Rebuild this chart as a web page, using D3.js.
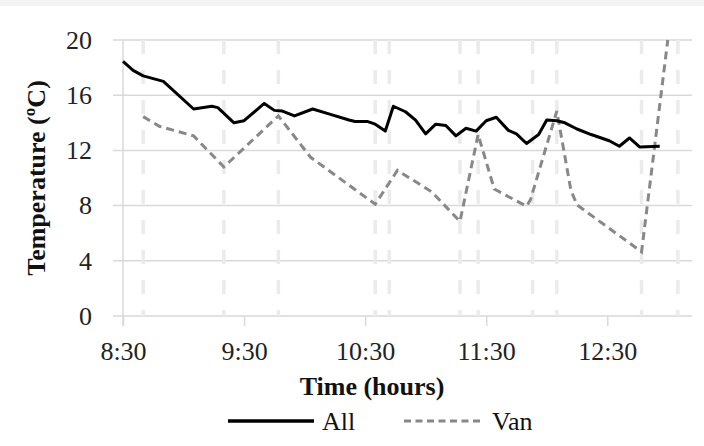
<!DOCTYPE html>
<html>
<head>
<meta charset="utf-8">
<script src="https://cdn.jsdelivr.net/npm/d3@7"></script>
<style>
  body { margin: 0; background: #fff; }
  svg { display: block; }
</style>
</head>
<body>
<script>
const w = 704
const h = 446
const margin = { top: 40, right: 12, bottom: 130, left: 123 }

// temperature readings, all loggers
const allTimes = ['8:30', '8:35', '8:40', '8:50', '9:05', '9:14', '9:17', '9:25', '9:30', '9:40',
	'9:45', '9:49', '9:55', '10:04', '10:12', '10:22', '10:25', '10:31', '10:35', '10:40',
	'10:44', '10:50', '10:55', '11:00', '11:05', '11:10', '11:15', '11:20', '11:25', '11:30',
	'11:35', '11:41', '11:45', '11:50', '11:56', '12:00', '12:05', '12:09', '12:15', '12:22',
	'12:31', '12:36', '12:41', '12:46', '12:56']
const allValues = [18.45, 17.8, 17.4, 17.0, 15.0, 15.2, 15.1, 14.0, 14.15, 15.4,
	14.9, 14.85, 14.5, 15.0, 14.65, 14.2, 14.1, 14.1, 13.9, 13.4,
	15.2, 14.8, 14.2, 13.2, 13.9, 13.8, 13.05, 13.6, 13.4, 14.15,
	14.4, 13.45, 13.2, 12.5, 13.15, 14.2, 14.15, 14.0, 13.55, 13.15,
	12.7, 12.3, 12.9, 12.25, 12.3]

// van logger
const vanTimes = ['8:40', '8:48', '8:59', '9:05', '9:20', '9:47', '10:03', '10:35', '10:46', '11:03',
	'11:17', '11:26', '11:34', '11:50', '11:52', '12:05', '12:12', '12:15', '12:47', '13:00']
const vanValues = [14.45, 13.75, 13.3, 13.05, 10.8, 14.5, 11.5, 8.1, 10.55, 9.0,
	6.85, 13.15, 9.2, 7.95, 8.45, 14.85, 9.1, 8.05, 4.65, 20]

// van stops (dashed markers)
const stopTimes = ['8:40', '9:20', '9:47', '10:35', '10:42', '11:17', '11:26', '11:53', '12:05', '12:47', '13:05']

const xTicks = ['8:30', '9:30', '10:30', '11:30', '12:30']
const yTicks = [0, 4, 8, 12, 16, 20]
const xStart = '8:30'
const xEnd = '13:12'

const parse = d3.timeParse('%H:%M')
const fmt = d3.timeFormat('%-H:%M')
const font = '"Liberation Serif", "Times New Roman", serif'

const svg = d3.select('body')
	.append('svg')
	.attr('width', w)
	.attr('height', h)

svg.append('rect')
	.attr('width', w)
	.attr('height', 6)
	.attr('fill', '#f3f3f3')

const xScale = d3.scaleTime()
	.domain([parse(xStart), parse(xEnd)])
	.range([margin.left, w - margin.right])

const yScale = d3.scaleLinear()
	.domain([0, 20])
	.range([h - margin.bottom, margin.top])

// horizontal gridlines
svg.append('g')
	.selectAll('line')
	.data(yTicks)
	.enter()
	.append('line')
	.attr('x1', margin.left - 10)
	.attr('x2', w - margin.right)
	.attr('y1', d => yScale(d))
	.attr('y2', d => yScale(d))
	.attr('stroke', '#d9d9d9')
	.attr('stroke-width', 1.5)

// van stop markers
svg.append('g')
	.selectAll('line')
	.data(stopTimes)
	.enter()
	.append('line')
	.attr('x1', d => xScale(parse(d)))
	.attr('x2', d => xScale(parse(d)))
	.attr('y1', margin.top)
	.attr('y2', h - margin.bottom)
	.attr('stroke', '#ebebeb')
	.attr('stroke-width', 3.5)
	.attr('stroke-dasharray', '14,16')

const yAxis = d3.axisLeft(yScale)
	.tickValues(yTicks)
	.tickSize(0)
	.tickPadding(31)

svg.append('g')
	.attr('transform', `translate(${margin.left},0)`)
	.call(yAxis)
	.call(g => g.select('.domain').remove())
	.selectAll('text')
	.attr('font-family', font)
	.attr('font-size', '26px')
	.attr('fill', '#222')

const xAxis = d3.axisBottom(xScale)
	.tickValues(xTicks.map(parse))
	.tickFormat(fmt)
	.tickSize(10)
	.tickSizeOuter(0)
	.tickPadding(16)

const xg = svg.append('g')
	.attr('transform', `translate(0,${h - margin.bottom})`)
	.call(xAxis)
xg.select('.domain').remove()
xg.selectAll('line')
	.attr('stroke', '#d9d9d9')
	.attr('stroke-width', 1.5)
xg.selectAll('text')
	.attr('font-family', font)
	.attr('font-size', '26px')
	.attr('fill', '#222')

// vertical axis line
svg.append('line')
	.attr('x1', margin.left)
	.attr('x2', margin.left)
	.attr('y1', margin.top)
	.attr('y2', h - margin.bottom + 10)
	.attr('stroke', '#d9d9d9')
	.attr('stroke-width', 1.5)

const line = d3.line()
	.x(d => xScale(parse(d[0])))
	.y(d => yScale(d[1]))

svg.append('path')
	.attr('d', line(d3.zip(vanTimes, vanValues)))
	.attr('fill', 'none')
	.attr('stroke', '#888')
	.attr('stroke-width', 3)
	.attr('stroke-dasharray', '8,5')

svg.append('path')
	.attr('d', line(d3.zip(allTimes, allValues)))
	.attr('fill', 'none')
	.attr('stroke', '#000')
	.attr('stroke-width', 3)
	.attr('stroke-linejoin', 'round')

// axis titles
svg.append('text')
	.attr('transform', `translate(45,${(margin.top + h - margin.bottom) / 2}) rotate(-90)`)
	.attr('text-anchor', 'middle')
	.attr('font-family', font)
	.attr('font-size', '26px')
	.attr('font-weight', 'bold')
	.attr('fill', '#111')
	.text('Temperature (ºC)')

svg.append('text')
	.attr('x', 372)
	.attr('y', 395)
	.attr('text-anchor', 'middle')
	.attr('font-family', font)
	.attr('font-size', '26px')
	.attr('font-weight', 'bold')
	.attr('fill', '#111')
	.text('Time (hours)')

// legend
const legend = [
	{ name: 'All', x: 228, len: 86, color: '#000', dash: null, width: 3.5 },
	{ name: 'Van', x: 404, len: 80, color: '#888', dash: '7,4.5', width: 3 }
]
const lg = svg.append('g')
lg.selectAll('line')
	.data(legend)
	.enter()
	.append('line')
	.attr('x1', d => d.x)
	.attr('x2', d => d.x + d.len)
	.attr('y1', 421)
	.attr('y2', 421)
	.attr('stroke', d => d.color)
	.attr('stroke-width', d => d.width)
	.attr('stroke-dasharray', d => d.dash)
lg.selectAll('text')
	.data(legend)
	.enter()
	.append('text')
	.attr('x', d => d.x + d.len + 8)
	.attr('y', 430)
	.attr('font-family', font)
	.attr('font-size', '26px')
	.attr('fill', '#111')
	.text(d => d.name)
</script>
</body>
</html>
